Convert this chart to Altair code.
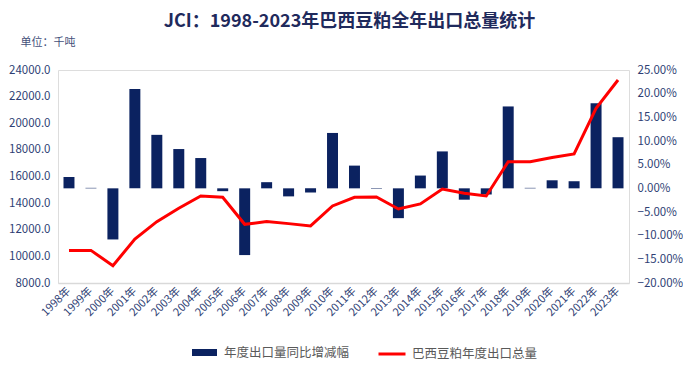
import altair as alt
import pandas as pd

years = ["1998年", "1999年", "2000年", "2001年", "2002年", "2003年", "2004年", "2005年",
         "2006年", "2007年", "2008年", "2009年", "2010年", "2011年", "2012年", "2013年",
         "2014年", "2015年", "2016年", "2017年", "2018年", "2019年", "2020年", "2021年",
         "2022年", "2023年"]
yoy_pct = [2.4, 0.1, -10.8, 21.0, 11.3, 8.3, 6.4, -0.6, -14.1, 1.3, -1.7, -0.9, 11.7,
           4.8, -0.1, -6.3, 2.7, 7.8, -2.4, -1.3, 17.3, 0.1, 1.7, 1.5, 18.0, 10.8]
total_kt = [10450, 10450, 9300, 11300, 12610, 13610, 14540, 14440, 12410, 12610, 12460,
            12290, 13790, 14440, 14460, 13560, 13940, 15060, 14740, 14540, 17110, 17110,
            17420, 17690, 21120, 23250]

bar_name = "年度出口量同比增减幅"
line_name = "巴西豆粕年度出口总量"

df = pd.DataFrame({"year": years, "yoy": [v / 100 for v in yoy_pct], "total": total_kt,
                   "bs": [bar_name] * len(years), "ls": [line_name] * len(years)})

FONT = "Noto Sans CJK SC"
TXT = "#2F3F75"
NAVY = "#0B2260"
RED = "#FF0000"

x_enc = alt.X("year:N", sort=years, title=None,
              scale=alt.Scale(paddingInner=0.5, paddingOuter=0.25),
              axis=alt.Axis(labelAngle=-45, labelAlign="right", labelBaseline="middle",
                            labelColor=TXT, labelFontSize=11, labelFont=FONT,
                            ticks=False, domain=True, domainColor="#D9D9D9",
                            domainWidth=1.5, labelPadding=6))

bars = alt.Chart(df).mark_bar(color=NAVY).encode(
    x=x_enc,
    y=alt.Y("yoy:Q", title=None,
            scale=alt.Scale(domain=[-0.20, 0.25], nice=False, zero=False),
            axis=alt.Axis(orient="right", format=".2%",
                          values=[-0.2, -0.15, -0.1, -0.05, 0, 0.05, 0.1, 0.15, 0.2, 0.25],
                          grid=False, domain=False, ticks=False, labelColor=TXT,
                          labelFontSize=11.5, labelFont=FONT, labelPadding=8)),
    color=alt.Color("bs:N",
                    scale=alt.Scale(domain=[bar_name], range=[NAVY]),
                    legend=alt.Legend(title=None, orient="none", legendX=133, legendY=269,
                                      padding=0, labelOffset=6,
                                      symbolType="M-1,-0.28H1V0.28H-1Z", symbolSize=625,
                                      labelFont=FONT, labelFontSize=12.5, labelColor="#595959")),
)

line = alt.Chart(df).mark_line(strokeWidth=3, color=RED).encode(
    x=x_enc,
    y=alt.Y("total:Q",
            scale=alt.Scale(domain=[8000, 24000], nice=False, zero=False),
            axis=alt.Axis(orient="left", format=".1f",
                          values=[8000, 10000, 12000, 14000, 16000, 18000, 20000, 22000, 24000],
                          grid=False, domain=False, ticks=False, labelColor=TXT,
                          labelFontSize=11.5, labelFont=FONT, labelPadding=8,
                          title="单位：千吨", titleAngle=0, titleAlign="left",
                          titleBaseline="middle", titleX=-38, titleY=-28,
                          titleFont=FONT, titleFontSize=11, titleFontWeight="normal",
                          titleColor="#44507A")),
    stroke=alt.Stroke("ls:N",
                      scale=alt.Scale(domain=[line_name], range=[RED]),
                      legend=alt.Legend(title=None, orient="none", legendX=319, legendY=269,
                                        padding=0, labelOffset=5,
                                        symbolType="stroke", symbolStrokeWidth=3, symbolSize=729,
                                        labelFont=FONT, labelFontSize=12.5, labelColor="#595959")),
)

chart = alt.layer(bars, line).resolve_scale(
    y="independent", color="independent", stroke="independent"
).properties(
    width=571, height=213,
    padding={"left": 0, "top": 5, "right": 0, "bottom": 0},
    title=alt.Title("JCI：1998-2023年巴西豆粕全年出口总量统计", font=FONT, fontSize=18,
                    fontWeight="bold", color="#1F2A5C", anchor="middle", offset=5, dx=6),
).configure_view(stroke=None).configure(background="white")

chart.save("out.html", embed_options={"renderer": "svg", "actions": False})
